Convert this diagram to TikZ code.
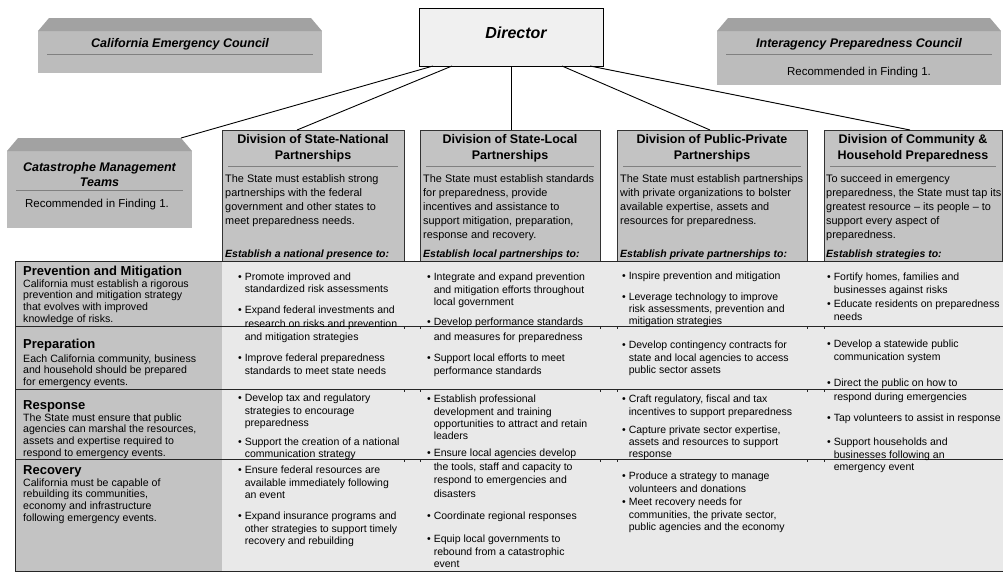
\documentclass[tikz,border=0pt]{standalone}
\usepackage{fontspec}
\setmainfont{Liberation Sans}

\definecolor{boxgray}{HTML}{C3C3C3}
\definecolor{bevelgray}{HTML}{A2A2A2}
\definecolor{councilgray}{HTML}{BCBCBC}
\definecolor{cellgray}{HTML}{E9E9E9}
\definecolor{dirgray}{HTML}{F0F0F0}

\newcommand{\txtl}[1]{\begin{tabular}[t]{@{}l@{}}#1\end{tabular}}
\newcommand{\txtc}[1]{\begin{tabular}[t]{@{}c@{}}#1\end{tabular}}
\newcommand{\bitem}[1]{\textbullet\ \txtl{#1}}

\tikzset{
  divbox/.style={draw=black!80, fill=boxgray, line width=0.8pt, inner sep=0, outer sep=0},
  councilbox/.style={fill=councilgray, inner sep=0, outer sep=0},
  dirbox/.style={draw=black, fill=dirgray, line width=0.8pt, inner sep=0, outer sep=0},
  councilttl/.style={anchor=base, inner sep=0, font=\fontsize{12.5}{15}\selectfont\bfseries\itshape},
  councilrec/.style={anchor=base, inner sep=0, font=\fontsize{11.5}{14}\selectfont},
  divtitle/.style={anchor=base, inner sep=0, font=\fontsize{12.5}{16}\selectfont\bfseries},
  divtext/.style={anchor=base west, inner sep=0, font=\fontsize{10.9}{14}\selectfont},
  divgoal/.style={anchor=base west, inner sep=0, font=\fontsize{10.5}{13}\selectfont\bfseries\itshape},
  rowtitle/.style={anchor=base west, inner sep=0, font=\fontsize{13}{15}\selectfont\bfseries},
  rowtext/.style={anchor=base west, inner sep=0, font=\fontsize{10.6}{11.8}\selectfont},
  cell/.style={anchor=base west, inner sep=0, font=\fontsize{10.5}{12.3}\selectfont},
  sepline/.style={draw=black!50, line width=0.9pt},
  tabline/.style={draw=black!85, line width=0.9pt},
  conn/.style={draw=black, line width=0.9pt},
}

\begin{document}
\begin{tikzpicture}[x=1pt,y=-1pt]
\useasboundingbox (0,0) rectangle (1007,574);

% conseils
\node[councilbox, minimum width=284, minimum height=42] (cec) at (180,52) {};
\node[councilbox, minimum width=284, minimum height=54] (ipc) at (859,58) {};
\node[councilbox, minimum width=185, minimum height=77] (cat) at (99.5,189.5) {};
\foreach \b in {cec,ipc,cat}
  \fill[bevelgray] (\b.north west) -- ([xshift=11pt,yshift=13pt]\b.north west)
    -- ([xshift=-11pt,yshift=13pt]\b.north east) -- (\b.north east) -- cycle;

\draw[sepline] (47,54) -- (313,54);
\draw[sepline] (726,54) -- (992,54);
\draw[sepline] (16,190) -- (183,190);

\node[councilttl] (cecT) at (180,47.5) {California Emergency Council};
\node[councilttl] (ipcT) at (859,47.5) {Interagency Preparedness Council};
\node[councilrec] (ipcR) at (859,75) {Recommended in Finding 1.};
\node[councilttl] (catT) at (99.5,171.5) {\txtc{Catastrophe Management\\Teams}};
\node[councilrec] (catR) at (97,207) {Recommended in Finding 1.};

% directeur
\node[dirbox, minimum width=184, minimum height=58] (dir) at (511,37) {};
\node[inner sep=0, font=\fontsize{16}{19}\selectfont\bfseries\itshape] (dirT) at (516,33) {Director};

% divisions
\foreach \n/\xc/\w in {A/313/182, B/510/180, C/712/190, D/913/178}
  \node[divbox, minimum width=\w, minimum height=131] (div\n) at (\xc,195.5) {};
\foreach \xl/\xr in {228/398, 426/594, 623/801, 830/996}
  \draw[sepline] (\xl,166) -- (\xr,166);

\node[divtitle] (divAt) at (313,143) {\txtc{Division of State-National\\Partnerships}};
\node[divtitle] (divBt) at (510,143) {\txtc{Division of State-Local\\Partnerships}};
\node[divtitle] (divCt) at (712,143) {\txtc{Division of Public-Private\\Partnerships}};
\node[divtitle] (divDt) at (913,143) {\txtc{Division of Community \&\\Household Preparedness}};

\node[divtext] (divAd) at (225,182) {\txtl{The State must establish strong\\partnerships with the federal\\government and other states to\\meet preparedness needs.}};
\node[divtext] (divBd) at (423,182) {\txtl{The State must establish standards\\for preparedness, provide\\incentives and assistance to\\support mitigation, preparation,\\response and recovery.}};
\node[divtext] (divCd) at (620,182) {\txtl{The State must establish partnerships\\with private organizations to bolster\\available expertise, assets and\\resources for preparedness.}};
\node[divtext] (divDd) at (826,182) {\txtl{To succeed in emergency\\preparedness, the State must tap its\\greatest resource -- its people -- to\\support every aspect of\\preparedness.}};

\node[divgoal] (divAg) at (225,257.5) {Establish a national presence to:};
\node[divgoal] (divBg) at (423,257.5) {Establish local partnerships to:};
\node[divgoal] (divCg) at (620,257.5) {Establish private partnerships to:};
\node[divgoal] (divDg) at (826,257.5) {Establish strategies to:};

% liens
\coordinate (catTop) at ([xshift=-11pt,yshift=13pt]cat.north east);
\draw[conn] ([xshift=14pt]dir.south west) -- (catTop);
\draw[conn] ([xshift=33pt]dir.south west) -- ([xshift=-16pt]divA.north);
\draw[conn] (dir.south) -- (dir.south |- divB.north);
\draw[conn] ([xshift=-41pt]dir.south east) -- ([xshift=-2pt]divC.north);
\draw[conn] ([xshift=-13pt]dir.south east) -- ([xshift=-3pt]divD.north);

% tableau
\fill[boxgray] (15,261) rectangle (222,571);
\fill[cellgray] (222,261) rectangle (1003,571);
\draw[tabline] (15,261) -- (1003,261);
\foreach \y in {326,389,459}
  \draw[tabline] (15,\y) -- (1003,\y);
\draw[tabline] (15,261) -- (15,571) -- (1003,571);
\foreach \y in {326,389,459}
  \foreach \x in {404,420,600,617,807,824}
    \draw[tabline] (\x,\y) -- (\x,\y+3);

% lignes
\node[rowtitle] (prevT) at (23,275.7) {Prevention and Mitigation};
\node[rowtext] (prevD) at (23,287) {\txtl{California must establish a rigorous\\prevention and mitigation strategy\\that evolves with improved\\knowledge of risks.}};
\node[rowtitle] (prepT) at (23,348.7) {Preparation};
\node[rowtext] (prepD) at (23,362) {\txtl{Each California community, business\\and household should be prepared\\for emergency events.}};
\node[rowtitle] (respT) at (23,409.7) {Response};
\node[rowtext] (respD) at (23,421) {\txtl{The State must ensure that public\\agencies can marshal the resources,\\assets and expertise required to\\respond to emergency events.}};
\node[rowtitle] (recT) at (23,474.7) {Recovery};
\node[rowtext] (recD) at (23,486) {\txtl{California must be capable of\\rebuilding its communities,\\economy and infrastructure\\following emergency events.}};

% colonne A
\node[cell] (cA1) at (238,280.4) {\bitem{Promote improved and\\standardized risk assessments}};
\node[cell, font=\fontsize{10.5}{13.5}\selectfont] (cA2) at (238,313.5) {\bitem{Expand federal investments and\\research on risks and prevention\\and mitigation strategies}};
\node[cell] (cA3) at (238,361.7) {\bitem{Improve federal preparedness\\standards to meet state needs}};
\node[cell] (cA4) at (238,401.7) {\bitem{Develop tax and regulatory\\strategies to encourage\\preparedness}};
\node[cell, font=\fontsize{10.5}{12}\selectfont] (cA5) at (238,445.5) {\bitem{Support the creation of a national\\communication strategy}};
\node[cell] (cA6) at (238,473.7) {\bitem{Ensure federal resources are\\available immediately following\\an event}};
\node[cell] (cA7) at (238,519.7) {\bitem{Expand insurance programs and\\other strategies to support timely\\recovery and rebuilding}};

% colonne B
\node[cell] (cB1) at (427,280.7) {\bitem{Integrate and expand prevention\\and mitigation efforts throughout\\local government}};
\node[cell, font=\fontsize{10.5}{14.5}\selectfont] (cB2) at (427,325.5) {\bitem{Develop performance standards\\and measures for preparedness}};
\node[cell] (cB3) at (427,361.7) {\bitem{Support local efforts to meet\\performance standards}};
\node[cell] (cB4) at (427,402.7) {\bitem{Establish professional\\development and training\\opportunities to attract and retain\\leaders}};
\node[cell, font=\fontsize{10.5}{13.5}\selectfont] (cB5) at (427,456.7) {\bitem{Ensure local agencies develop\\the tools, staff and capacity to\\respond to emergencies and\\disasters}};
\node[cell] (cB6) at (427,519.7) {\bitem{Coordinate regional responses}};
\node[cell] (cB7) at (427,542.7) {\bitem{Equip local governments to\\rebound from a catastrophic\\event}};

% colonne C
\node[cell] (cC1) at (622,279.7) {\bitem{Inspire prevention and mitigation}};
\node[cell, font=\fontsize{10.5}{12.2}\selectfont] (cC2) at (622,300.5) {\bitem{Leverage technology to improve\\risk assessments, prevention and\\mitigation strategies}};
\node[cell] (cC3) at (622,348.7) {\bitem{Develop contingency contracts for\\state and local agencies to access\\public sector assets}};
\node[cell] (cC4) at (622,402.7) {\bitem{Craft regulatory, fiscal and tax\\incentives to support preparedness}};
\node[cell, font=\fontsize{10.5}{12}\selectfont] (cC5) at (622,433.5) {\bitem{Capture private sector expertise,\\assets and resources to support\\response}};
\node[cell] (cC6) at (622,479.7) {\bitem{Produce a strategy to manage\\volunteers and donations}};
\node[cell] (cC7) at (622,505.7) {\bitem{Meet recovery needs for\\communities, the private sector,\\public agencies and the economy}};

% colonne D
\node[cell] (cD1) at (827,280.7) {\bitem{Fortify homes, families and\\businesses against risks}};
\node[cell] (cD2) at (827,307.7) {\bitem{Educate residents on preparedness\\needs}};
\node[cell] (cD3) at (827,347.7) {\bitem{Develop a statewide public\\communication system}};
\node[cell, font=\fontsize{10.5}{13.5}\selectfont] (cD4) at (827,386.7) {\bitem{Direct the public on how to\\respond during emergencies}};
\node[cell] (cD5) at (827,421.7) {\bitem{Tap volunteers to assist in response}};
\node[cell, font=\fontsize{10.5}{12.5}\selectfont] (cD6) at (827,445.5) {\bitem{Support households and\\businesses following an\\emergency event}};

\end{tikzpicture}
\end{document}
